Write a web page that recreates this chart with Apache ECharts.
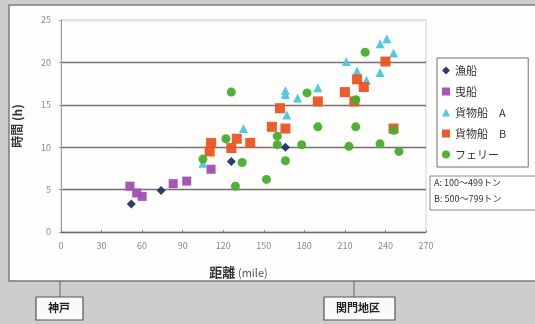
<!DOCTYPE html>
<html>
<head>
<meta charset="utf-8">
<script src="https://cdn.jsdelivr.net/npm/echarts@6/dist/echarts.min.js"></script>
<style>
  html, body { margin: 0; padding: 0; background: #cdcdcb; }
  #chart { width: 535px; height: 324px; }
</style>
</head>
<body>
<div id="chart"></div>
<script>
// Distance (mile) vs. travel time (h) for each ship type
const xTicks = [0, 30, 60, 90, 120, 150, 180, 210, 240, 270];
const yTicks = [0, 5, 10, 15, 20, 25];

const seriesNames = ['漁船', '曳船', '貨物船　A', '貨物船　B', 'フェリー'];

const fishing = [[52, 3.3], [74, 4.9], [126, 8.3], [166, 10.0]];
const tug = [[51, 5.4], [56, 4.6], [60, 4.2], [83, 5.7], [93, 6.0], [111, 7.4]];
const cargoA = [[105, 8.1], [135, 12.2], [166, 16.7], [166, 16.2], [167, 13.8], [175, 15.8],
  [190, 17.0], [211, 20.1], [219, 19.0], [226, 17.9], [236, 18.8], [236, 22.2], [241, 22.8], [246, 21.1]];
const cargoB = [[110, 9.5], [111, 10.5], [126, 9.9], [130, 11.0], [140, 10.5], [156, 12.4],
  [162, 14.6], [166, 12.2], [190, 15.4], [210, 16.5], [217, 15.4], [219, 18.0], [224, 17.1],
  [240, 20.1], [246, 12.2]];
const ferry = [[105, 8.6], [122, 11.0], [126, 16.5], [129, 5.4], [134, 8.2], [152, 6.2],
  [160, 11.3], [160, 10.3], [166, 8.4], [178, 10.3], [182, 16.4], [190, 12.4], [213, 10.1],
  [218, 15.6], [218, 12.4], [225, 21.2], [236, 10.4], [250, 9.5], [246, 12.0]];

const noteLines = ['A: 100～499トン', 'B: 500～799トン'];
const places = ['神戸', '関門地区'];

const FONT = '"Noto Sans CJK JP", "Noto Sans", sans-serif';

const chart = echarts.init(document.getElementById('chart'), null, { renderer: 'canvas' });

function scatter(name, data, symbol, size, color) {
  return {
    name: name, type: 'scatter', data: data, symbol: symbol, symbolSize: size,
    itemStyle: { color: color, opacity: 0.95 }, z: 3
  };
}

chart.setOption({
  animation: false,
  textStyle: { fontFamily: FONT },
  grid: { left: 61, right: 109, top: 20, bottom: 92, show: true, borderColor: '#d4d0d0', borderWidth: 1 },
  xAxis: {
    type: 'value', min: xTicks[0], max: xTicks[xTicks.length - 1], interval: 30,
    axisLine: { lineStyle: { color: '#6a6a6a', width: 1.2 } },
    axisTick: { show: true, inside: true, length: 2, lineStyle: { color: '#888' } },
    axisLabel: { color: '#8a8a8a', fontSize: 9, margin: 9 },
    splitLine: { show: false },
    name: '{a|距離} {b|(mile)}', nameLocation: 'middle', nameGap: 34,
    nameTextStyle: {
      padding: [0, 10, 0, 0],
      rich: {
        a: { color: '#333', fontSize: 13, fontWeight: 'bold', fontFamily: FONT },
        b: { color: '#555', fontSize: 11, fontFamily: FONT }
      }
    }
  },
  yAxis: {
    type: 'value', min: yTicks[0], max: yTicks[yTicks.length - 1], interval: 5,
    axisLine: { show: true, lineStyle: { color: '#9a9a9a' } },
    axisTick: { show: true, length: 2, lineStyle: { color: '#999' } },
    axisLabel: { color: '#8a8a8a', fontSize: 9, margin: 10 },
    splitLine: { show: true, lineStyle: { color: ['#6a6a6a', '#757070', '#7a6e6e', '#7a6e6e', '#7a6e6e', '#e2d6d6'], width: 1.3 } },
    name: '時間 (h)', nameLocation: 'middle', nameGap: 38, nameRotate: 90,
    nameTextStyle: { color: '#333', fontSize: 12, fontWeight: 'bold' }
  },
  legend: {
    orient: 'vertical', left: 437, top: 58, width: 93,
    data: seriesNames,
    itemWidth: 8, itemHeight: 8, itemGap: 8,
    padding: [6, 22, 6, 5],
    borderColor: '#6f6f6f', borderWidth: 1, backgroundColor: '#fff',
    textStyle: { color: '#333', fontSize: 11, lineHeight: 13, fontFamily: FONT }
  },
  series: [
    scatter(seriesNames[0], fishing, 'diamond', 9, '#1e3565'),
    scatter(seriesNames[1], tug, 'rect', 9, '#a34cb4'),
    scatter(seriesNames[2], cargoA, 'triangle', 9, '#4cc7dc'),
    scatter(seriesNames[3], cargoB, 'rect', 10, '#ec5420'),
    scatter(seriesNames[4], ferry, 'circle', 9, '#47ad2c')
  ],
  graphic: [
    // white chart card
    { type: 'rect', z: -10, shape: { x: 9, y: 5, width: 540, height: 276 },
      style: { fill: '#fdfdfc', stroke: '#7a7a7a', lineWidth: 1.5 } },
    // size note box
    { type: 'rect', z: 5, shape: { x: 430, y: 176, width: 110, height: 34 },
      style: { fill: '#fff', stroke: '#8a8a8a', lineWidth: 1 } },
    { type: 'text', z: 6, left: 434, top: 178,
      style: { text: noteLines[0], fill: '#333', font: '9px ' + FONT } },
    { type: 'text', z: 6, left: 434, top: 194,
      style: { text: noteLines[1], fill: '#333', font: '9px ' + FONT } },
    // place callouts below the card
    { type: 'line', shape: { x1: 60, y1: 281, x2: 60, y2: 297 }, style: { stroke: '#666', lineWidth: 1 } },
    { type: 'rect', shape: { x: 36, y: 297, width: 47, height: 23 },
      style: { fill: '#fafaf8', stroke: '#555', lineWidth: 1.2 } },
    { type: 'text', left: 48, top: 302,
      style: { text: places[0], fill: '#222', font: 'bold 11px ' + FONT } },
    { type: 'line', shape: { x1: 354, y1: 281, x2: 354, y2: 297 }, style: { stroke: '#666', lineWidth: 1 } },
    { type: 'rect', shape: { x: 324, y: 297, width: 71, height: 23 },
      style: { fill: '#fafaf8', stroke: '#555', lineWidth: 1.2 } },
    { type: 'text', left: 336, top: 302,
      style: { text: places[1], fill: '#222', font: 'bold 11px ' + FONT } }
  ]
});
</script>
</body>
</html>
